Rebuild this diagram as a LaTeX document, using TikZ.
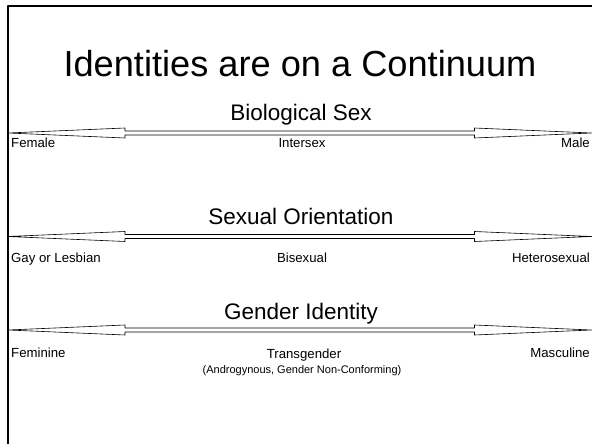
\documentclass[tikz,border=0pt]{standalone}
\usepackage{fontspec}
\setmainfont{Liberation Sans}
\begin{document}
\begin{tikzpicture}[x=1pt,y=-1pt,line join=round,
  contarrow/.style={draw=black,fill=white,line width=0.6pt},
  heading/.style={anchor=base,font=\fontsize{22.5}{27}\selectfont},
  pole/.style={anchor=base,inner sep=0pt,font=\fontsize{13.2}{16}\selectfont}]
\def \xl{8};
\def \xr{591.5};
\def \hw{117};
\useasboundingbox (0,0) rectangle (592,444);
\draw[line width=2pt] (7.5,444) -- (7.5,6.5) -- (592,6.5);
% the three scales
\foreach \c in {133,236.5,330}
  \draw[contarrow] (\xl,\c) -- (\xl+\hw,\c-5) -- (\xl+\hw,\c-2) -- (\xr-\hw,\c-2) -- (\xr-\hw,\c-5)
    -- (\xr,\c) -- (\xr-\hw,\c+5) -- (\xr-\hw,\c+2) -- (\xl+\hw,\c+2) -- (\xl+\hw,\c+5) -- cycle;
\node[anchor=base,font=\fontsize{36.2}{42}\selectfont] (title) at (300,77) {Identities are on a Continuum};
\node[heading] (sex) at (301,121) {Biological Sex};
\node[pole,anchor=base west] (female) at (11,147.5) {Female};
\node[pole] (intersex) at (302,147.5) {Intersex};
\node[pole,anchor=base east] (male) at (590,147.5) {Male};
\node[heading] (orient) at (301,224) {Sexual Orientation};
\node[pole,anchor=base west] (gay) at (11,262) {Gay or Lesbian};
\node[pole] (bi) at (302,262) {Bisexual};
\node[pole,anchor=base east] (hetero) at (590,262) {Heterosexual};
\node[heading] (gender) at (301,319) {Gender Identity};
\node[pole,anchor=base west] (fem) at (11,357) {Feminine};
\node[pole] (trans) at (304,358) {Transgender};
\node[pole,font=\fontsize{11}{14}\selectfont] (andro) at (302,373) {(Androgynous, Gender Non-Conforming)};
\node[pole,anchor=base east] (masc) at (590,357) {Masculine};
\end{tikzpicture}
\end{document}
